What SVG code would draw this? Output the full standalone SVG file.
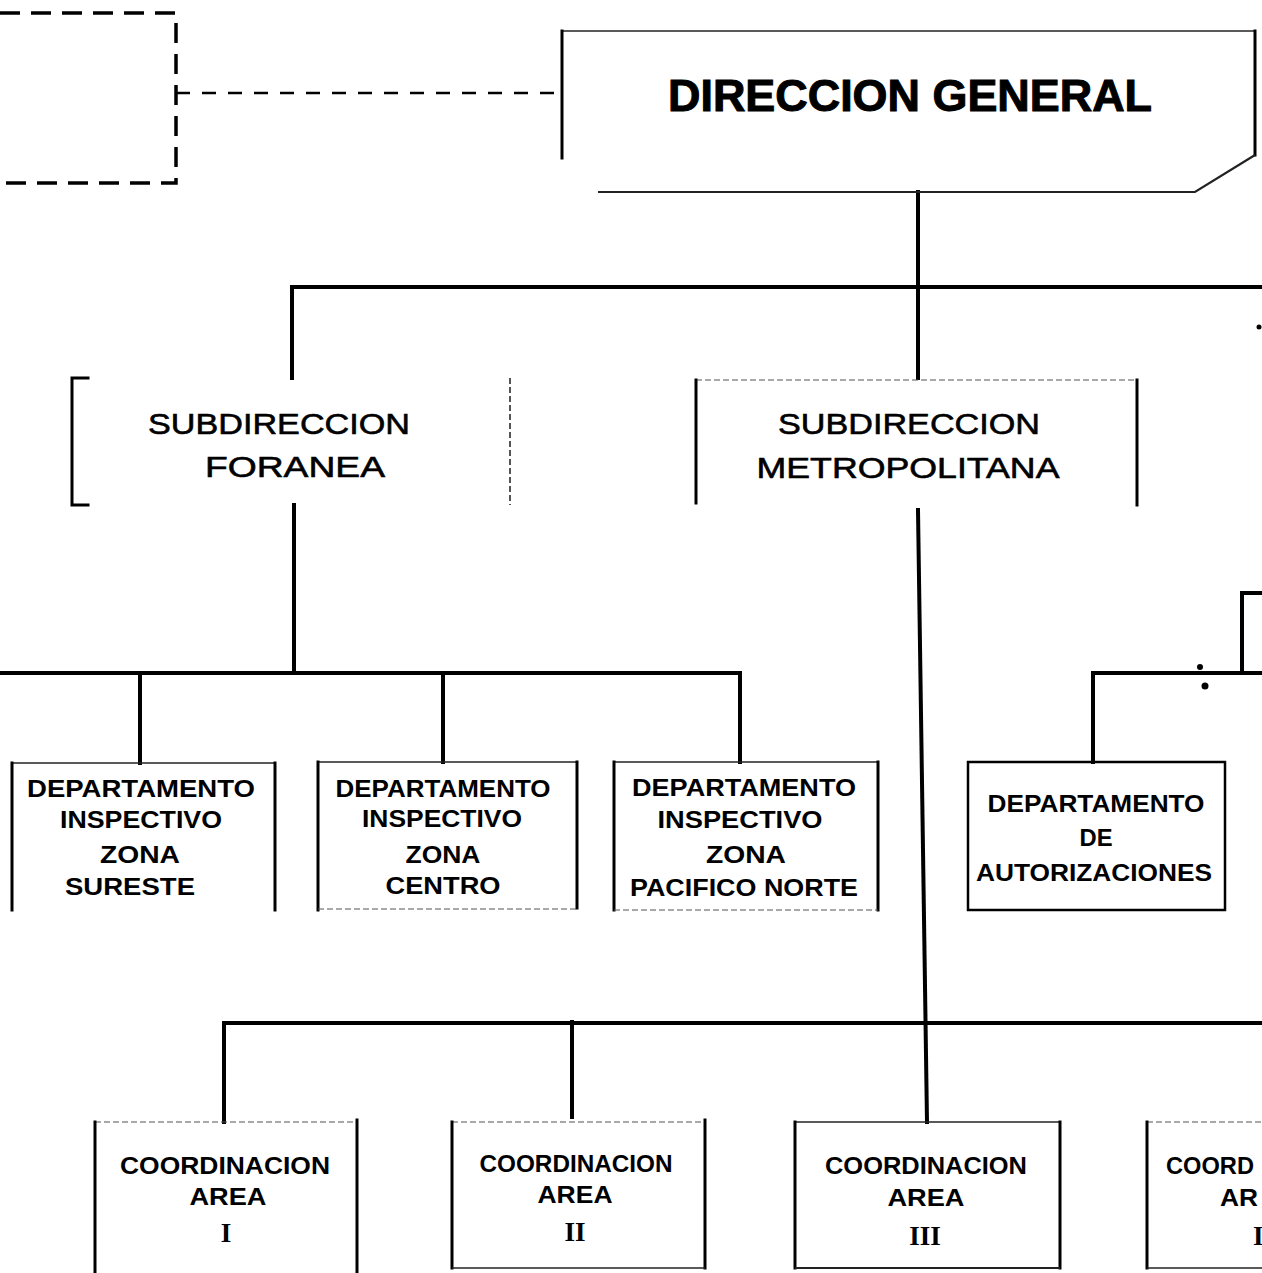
<svg xmlns="http://www.w3.org/2000/svg" width="1262" height="1273" viewBox="0 0 1262 1273">
<style>
.side{fill:none;stroke:#000;stroke-width:3;stroke-linecap:square}
.edge{fill:none;stroke:#222;stroke-width:1.6}
.faint{fill:none;stroke:#555;stroke-width:1.2;stroke-dasharray:6 3}
.conn{fill:none;stroke:#000;stroke-width:4;stroke-linecap:square;stroke-linejoin:miter}
.dash{fill:none;stroke:#000;stroke-width:3.5;stroke-dasharray:20 11}
.dashthin{fill:none;stroke:#000;stroke-width:2.5;stroke-dasharray:14 12}
.title{font-family:"Liberation Sans",Arial,sans-serif;font-weight:bold;font-size:44px;fill:#000;text-anchor:middle;stroke:#000;stroke-width:1}
.sub{font-family:"Liberation Sans",Arial,sans-serif;font-size:30px;fill:#000;text-anchor:middle;stroke:#000;stroke-width:0.6}
.dep{font-family:"Liberation Sans",Arial,sans-serif;font-weight:bold;font-size:23px;fill:#000;text-anchor:middle}
.num{font-family:"Liberation Serif","Times New Roman",serif;font-weight:bold;font-size:27px;fill:#000;text-anchor:middle}
</style>
<rect width="1262" height="1273" fill="#fff"/>

<g id="connectors">
  <path class="dashthin" d="M176,93 H563"/>
  <path class="conn" d="M918,192 V287"/>
  <path class="conn" d="M292,378 V287 H1262"/>
  <path class="conn" d="M918,287 V378"/>
  <path class="conn" d="M294,505 V673"/>
  <path class="conn" d="M0,673 H740 V762"/>
  <path class="conn" d="M140,673 V763"/>
  <path class="conn" d="M443,673 V762"/>
  <path class="conn" d="M918,510 L927,1122"/>
  <path class="conn" d="M224,1122 V1023 H1262"/>
  <path class="conn" d="M572,1022 V1117"/>
  <path class="conn" d="M1262,593 H1242 V673"/>
  <path class="conn" d="M1093,762 V673 H1262"/>
  <circle cx="1200" cy="667" r="3" fill="#000"/>
  <circle cx="1205" cy="686" r="3.5" fill="#000"/>
  <circle cx="1259" cy="327" r="2.5" fill="#000"/>
</g>

<g id="staff-box">
  <path class="dash" d="M0,13 H176 V183 H0"/>
</g>

<g id="direccion-general">
  <path class="edge" d="M562,31 H1255"/>
  <path class="side" d="M562,31 V158"/>
  <path class="side" d="M1255,31 V155"/>
  <path class="edge" d="M1255,155 L1195,192 H598" style="stroke-width:2.2"/>
  <text class="title" x="910" y="111" textLength="484" lengthAdjust="spacingAndGlyphs">DIRECCION GENERAL</text>
</g>

<g id="subdireccion-foranea">
  <path class="side" d="M88,378 H72 V505 H88"/>
  <path class="faint" d="M510,378 V505" style="stroke-width:2"/>
  <text class="sub" x="279" y="434" textLength="262" lengthAdjust="spacingAndGlyphs">SUBDIRECCION</text>
  <text class="sub" x="295" y="477" textLength="180" lengthAdjust="spacingAndGlyphs">FORANEA</text>
</g>

<g id="subdireccion-metropolitana">
  <path class="faint" d="M696,380 H1137"/>
  <path class="side" d="M696,380 V503"/>
  <path class="side" d="M1137,380 V505"/>
  <text class="sub" x="909" y="434" textLength="262" lengthAdjust="spacingAndGlyphs">SUBDIRECCION</text>
  <text class="sub" x="908" y="478" textLength="303" lengthAdjust="spacingAndGlyphs">METROPOLITANA</text>
</g>

<g id="depto-sureste">
  <path class="edge" d="M12,763 H275"/>
  <path class="side" d="M12,763 V910"/>
  <path class="side" d="M275,763 V910"/>
  <text class="dep" x="141" y="797" textLength="228" lengthAdjust="spacingAndGlyphs">DEPARTAMENTO</text>
  <text class="dep" x="141" y="828" textLength="162" lengthAdjust="spacingAndGlyphs">INSPECTIVO</text>
  <text class="dep" x="140" y="863" textLength="80" lengthAdjust="spacingAndGlyphs">ZONA</text>
  <text class="dep" x="130" y="895" textLength="130" lengthAdjust="spacingAndGlyphs">SURESTE</text>
</g>

<g id="depto-centro">
  <path class="edge" d="M318,762 H577"/>
  <path class="side" d="M318,762 V910"/>
  <path class="side" d="M577,762 V908"/>
  <path class="faint" d="M318,909 H577"/>
  <text class="dep" x="443" y="797" textLength="215" lengthAdjust="spacingAndGlyphs">DEPARTAMENTO</text>
  <text class="dep" x="442" y="827" textLength="160" lengthAdjust="spacingAndGlyphs">INSPECTIVO</text>
  <text class="dep" x="443" y="863" textLength="75" lengthAdjust="spacingAndGlyphs">ZONA</text>
  <text class="dep" x="443" y="894" textLength="115" lengthAdjust="spacingAndGlyphs">CENTRO</text>
</g>

<g id="depto-pacifico-norte">
  <path class="edge" d="M614,762 H878"/>
  <path class="side" d="M614,762 V910"/>
  <path class="side" d="M878,762 V910"/>
  <path class="faint" d="M614,910 H878"/>
  <text class="dep" x="744" y="796" textLength="224" lengthAdjust="spacingAndGlyphs">DEPARTAMENTO</text>
  <text class="dep" x="740" y="828" textLength="165" lengthAdjust="spacingAndGlyphs">INSPECTIVO</text>
  <text class="dep" x="746" y="863" textLength="80" lengthAdjust="spacingAndGlyphs">ZONA</text>
  <text class="dep" x="744" y="896" textLength="228" lengthAdjust="spacingAndGlyphs">PACIFICO NORTE</text>
</g>

<g id="depto-autorizaciones">
  <path class="side" d="M968,762 H1225 V910 H968 Z" style="stroke-width:2.5"/>
  <text class="dep" x="1096" y="812" textLength="217" lengthAdjust="spacingAndGlyphs">DEPARTAMENTO</text>
  <text class="dep" x="1096" y="846" textLength="33" lengthAdjust="spacingAndGlyphs">DE</text>
  <text class="dep" x="1094" y="881" textLength="236" lengthAdjust="spacingAndGlyphs">AUTORIZACIONES</text>
</g>

<g id="coordinacion-area-i">
  <path class="faint" d="M95,1122 H357"/>
  <path class="side" d="M95,1122 V1273"/>
  <path class="side" d="M357,1120 V1273"/>
  <text class="dep" x="225" y="1174" textLength="210" lengthAdjust="spacingAndGlyphs">COORDINACION</text>
  <text class="dep" x="228" y="1205" textLength="77" lengthAdjust="spacingAndGlyphs">AREA</text>
  <text class="num" x="226" y="1242">I</text>
</g>

<g id="coordinacion-area-ii">
  <path class="faint" d="M452,1122 H705"/>
  <path class="side" d="M452,1122 V1268"/>
  <path class="side" d="M705,1120 V1268"/>
  <path class="edge" d="M452,1268 H705"/>
  <text class="dep" x="576" y="1172" textLength="193" lengthAdjust="spacingAndGlyphs">COORDINACION</text>
  <text class="dep" x="575" y="1203" textLength="75" lengthAdjust="spacingAndGlyphs">AREA</text>
  <text class="num" x="575" y="1241">II</text>
</g>

<g id="coordinacion-area-iii">
  <path class="edge" d="M795,1122 H1060"/>
  <path class="side" d="M795,1122 V1268"/>
  <path class="side" d="M1060,1122 V1268"/>
  <path class="edge" d="M795,1268 H1060" style="stroke-width:2"/>
  <text class="dep" x="926" y="1174" textLength="202" lengthAdjust="spacingAndGlyphs">COORDINACION</text>
  <text class="dep" x="926" y="1206" textLength="77" lengthAdjust="spacingAndGlyphs">AREA</text>
  <text class="num" x="925" y="1245">III</text>
</g>

<g id="coordinacion-area-iv">
  <path class="faint" d="M1147,1122 H1262"/>
  <path class="side" d="M1147,1122 V1268"/>
  <path class="edge" d="M1147,1268 H1262"/>
  <text class="dep" x="1166" y="1174" textLength="88" lengthAdjust="spacingAndGlyphs" style="text-anchor:start">COORD</text>
  <text class="dep" x="1220" y="1206" textLength="38" lengthAdjust="spacingAndGlyphs" style="text-anchor:start">AR</text>
  <text class="num" x="1253" y="1245" style="text-anchor:start">I</text>
</g>
</svg>
